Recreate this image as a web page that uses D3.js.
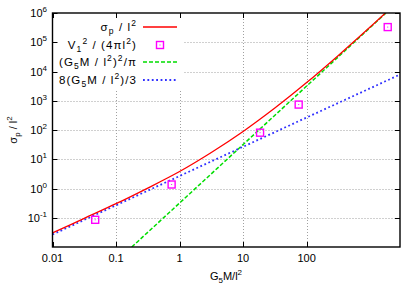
<!DOCTYPE html>
<html><head><meta charset="utf-8">
<script src="https://cdn.jsdelivr.net/npm/d3@7"></script>
<style>
body{margin:0;background:#fff;}
text{font-family:"Liberation Sans",Arial,Helvetica,sans-serif;}
</style></head>
<body><svg id="c" width="419" height="294"></svg>
<script>
// ---- data ----
const xTicks = [0.01, 0.1, 1, 10, 100];
const xTickLabels = ["0.01", "0.1", "1", "10", "100"];
const yTicks = [0.1, 1, 10, 100, 1000, 10000, 100000, 1000000];
const yTickExp = ["-1", "0", "1", "2", "3", "4", "5", "6"];
const gridX = [0.1, 1, 10, 100];
const gridY = [0.1, 1, 10, 100, 1000, 10000, 100000];

// sigma_p / l^2 (red curve)
const redX = [0.01, 0.0316, 0.1, 0.316, 1, 3.16, 10, 31.6, 100, 316, 1000, 1740];
const redY = [0.0302, 0.0955, 0.302, 1.035, 3.8, 17.0, 89, 562, 4170, 35500, 331000, 1000000];
// V1^2/(4 pi l^2) (magenta squares)
const ptsX = [0.047, 0.75, 18.5, 75, 1890];
const ptsY = [0.085, 1.37, 81, 740, 330000];
// (G5M/l^2)^2/pi (green dashed)
const greenX = [0.177, 1, 10, 100, 1000, 1772];
const greenY = [0.01, 0.318, 31.8, 3180, 318000, 1000000];
// 8(G5M/l^2)/3 (blue dotted)
const blueX = [0.01, 0.1, 1, 10, 100, 1000, 2950];
const blueY = [0.0267, 0.267, 2.67, 26.7, 267, 2670, 7870];

// ---- layout ----
const svg = d3.select("#c");
const L = 52.5, R = 400, T = 13, B = 247;
const x = d3.scaleLog().domain([0.01, 2950]).range([L, R]);
const y = d3.scaleLog().domain([0.01, 1e6]).range([B, T]);

function rich(sel, parts, small) {
  let cur = 0;
  parts.forEach(([t, m]) => {
    const target = m === "sub" ? 3 : m === "sup" ? -5 : 0;
    const ts = sel.append("tspan").text(t).attr("dy", target - cur);
    if (m) ts.attr("font-size", small);
    cur = target;
  });
}

// grid
const gg = svg.append("g").attr("stroke", "#a0a0a0").attr("stroke-width", 1).attr("stroke-dasharray", "1,2");
gridX.forEach(v => gg.append("line").attr("x1", Math.round(x(v)) + 0.5).attr("x2", Math.round(x(v)) + 0.5).attr("y1", T).attr("y2", B));
gridY.forEach(v => gg.append("line").attr("x1", L).attr("x2", R).attr("y1", Math.round(y(v)) + 0.5).attr("y2", Math.round(y(v)) + 0.5));

// legend background
svg.append("rect").attr("x", L + 1).attr("y", T + 1).attr("width", 130).attr("height", 75).attr("fill", "#fff");

// ticks
const tk = svg.append("g").attr("stroke", "#000").attr("stroke-width", 1);
xTicks.forEach(v => {
  const px = Math.round(x(v)) + 0.5;
  tk.append("line").attr("x1", px).attr("x2", px).attr("y1", B).attr("y2", B - 5);
  tk.append("line").attr("x1", px).attr("x2", px).attr("y1", T).attr("y2", T + 5);
});
yTicks.forEach(v => {
  const py = Math.round(y(v)) + 0.5;
  tk.append("line").attr("x1", L).attr("x2", L + 5).attr("y1", py).attr("y2", py);
  tk.append("line").attr("x1", R).attr("x2", R - 5).attr("y1", py).attr("y2", py);
});

// tick labels
xTicks.forEach((v, i) => {
  svg.append("text").attr("x", x(v)).attr("y", 262).attr("text-anchor", "middle")
    .attr("font-size", 11).text(xTickLabels[i]);
});
yTicks.forEach((v, i) => {
  const t = svg.append("text").attr("x", 47).attr("y", y(v) + 4).attr("text-anchor", "end").attr("font-size", 11);
  rich(t, [["10", ""], [yTickExp[i], "sup"]], 8);
});

// axis titles
const xt = svg.append("text").attr("x", 226).attr("y", 280).attr("text-anchor", "middle").attr("font-size", 11);
rich(xt, [["G", ""], ["5", "sub"], ["M/l", ""], ["2", "sup"]], 8);
const yt = svg.append("text").attr("transform", "translate(17,130) rotate(-90)").attr("text-anchor", "middle").attr("font-size", 11);
rich(yt, [["σ", ""], ["p", "sub"], [" / l", ""], ["2", "sup"]], 8);

// clip
svg.append("clipPath").attr("id", "clip").append("rect").attr("x", L).attr("y", T).attr("width", R - L).attr("height", B - T);
const plot = svg.append("g").attr("clip-path", "url(#clip)");

const line = d3.line().x(d => x(d[0])).y(d => y(d[1]));
plot.append("path").datum(greenX.map((v, i) => [v, greenY[i]])).attr("d", line)
  .attr("fill", "none").attr("stroke", "#00dd00").attr("stroke-width", 1.5).attr("stroke-dasharray", "4,2");
plot.append("path").datum(blueX.map((v, i) => [v, blueY[i]])).attr("d", line)
  .attr("fill", "none").attr("stroke", "#3030ff").attr("stroke-width", 1.8).attr("stroke-dasharray", "1.8,2.6");
const smooth = d3.line().x(d => x(d[0])).y(d => y(d[1])).curve(d3.curveCatmullRom.alpha(0.5));
plot.append("path").datum(redX.map((v, i) => [v, redY[i]])).attr("d", smooth)
  .attr("fill", "none").attr("stroke", "#ff0000").attr("stroke-width", 1.3);

function square(g, cx, cy) {
  g.append("rect").attr("x", cx - 3.5).attr("y", cy - 3.5).attr("width", 7).attr("height", 7)
    .attr("fill", "none").attr("stroke", "#ff00ff").attr("stroke-width", 1.4);
  g.append("rect").attr("x", cx - 0.5).attr("y", cy - 0.5).attr("width", 1).attr("height", 1).attr("fill", "#ff00ff");
}
ptsX.forEach((v, i) => square(svg, x(v), y(ptsY[i])));

// legend
const legY = [27, 45, 62, 80];
const legParts = [
  [["σ", ""], ["p", "sub"], [" / l", ""], ["2", "sup"]],
  [["V", ""], ["1", "sub"], ["2", "sup"], [" / (4πl", ""], ["2", "sup"], [")", ""]],
  [["(G", ""], ["5", "sub"], ["M / l", ""], ["2", "sup"], [")", ""], ["2", "sup"], ["/π", ""]],
  [["8(G", ""], ["5", "sub"], ["M / l", ""], ["2", "sup"], [")/3", ""]]
];
legParts.forEach((p, i) => {
  const t = svg.append("text").attr("x", 137).attr("y", legY[i] + 4).attr("text-anchor", "end")
    .attr("font-size", 11.5).attr("letter-spacing", 1.1);
  rich(t, p, 8.5);
});
svg.append("line").attr("x1", 143).attr("x2", 177).attr("y1", legY[0]).attr("y2", legY[0]).attr("stroke", "#ff0000").attr("stroke-width", 1.3);
square(svg, 160, legY[1]);
svg.append("line").attr("x1", 143).attr("x2", 177).attr("y1", legY[2]).attr("y2", legY[2]).attr("stroke", "#00dd00").attr("stroke-width", 1.5).attr("stroke-dasharray", "4,2");
svg.append("line").attr("x1", 143).attr("x2", 177).attr("y1", legY[3]).attr("y2", legY[3]).attr("stroke", "#3030ff").attr("stroke-width", 1.8).attr("stroke-dasharray", "1.8,2.6");

// frame
svg.append("rect").attr("x", L).attr("y", T).attr("width", R - L).attr("height", B - T)
  .attr("fill", "none").attr("stroke", "#000").attr("stroke-width", 1.4);
</script></body></html>
